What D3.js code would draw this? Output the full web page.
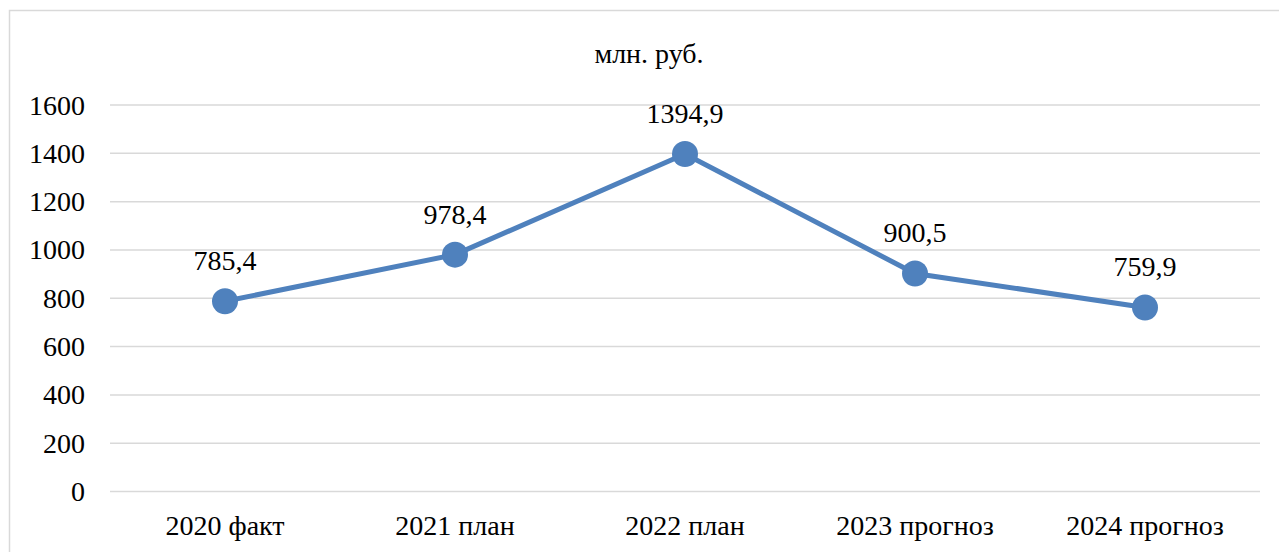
<!DOCTYPE html>
<html><head><meta charset="utf-8">
<script src="https://cdn.jsdelivr.net/npm/d3@7"></script>
</head><body style="margin:0">
<script>
const categories = ["2020 факт","2021 план","2022 план","2023 прогноз","2024 прогноз"];
const values = [785.4, 978.4, 1394.9, 900.5, 759.9];
const valueLabels = ["785,4","978,4","1394,9","900,5","759,9"];
const yTicks = [0,200,400,600,800,1000,1200,1400,1600];
const title = "млн. руб.";

const W=1279,H=552;
const svg=d3.select("body").append("svg").attr("width",W).attr("height",H).style("display","block")
  .attr("font-family","serif");
svg.append("rect").attr("x",9.5).attr("y",10.5).attr("width",1300).attr("height",600)
  .attr("fill","#fff").attr("stroke","#d9d9d9").attr("stroke-width",1.5);
const x=d3.scaleBand().domain(categories).range([110,1260]);
const y=d3.scaleLinear().domain([0,1600]).range([491,104.5]);

function styleText(sel){
  return sel.attr("font-family","serif").style("font-family","Times New Roman").style("font-size","28px").style("fill","#000");
}

styleText(svg.append("text").attr("x",649).attr("y",63).attr("text-anchor","middle").text(title));

const ga=svg.append("g").attr("transform","translate(110,0)")
 .call(d3.axisLeft(y).tickValues(yTicks).tickSize(-1150).tickFormat(d3.format("d")));
ga.attr("font-family","serif").attr("font-size",null);
ga.select(".domain").remove();
ga.selectAll(".tick line").attr("stroke","#d9d9d9").attr("stroke-width",1.5);
styleText(ga.selectAll(".tick text").attr("x",-25).attr("dy","0.34em"));

const gx=svg.append("g").attr("transform","translate(0,491)").call(d3.axisBottom(x).tickSize(0));
gx.attr("font-family","serif").attr("font-size",null);
gx.select(".domain").remove();
styleText(gx.selectAll(".tick text").attr("dy",0).attr("y",44));

const cx=d=>x(d)+x.bandwidth()/2;
const data=categories.map((c,i)=>({c,v:values[i],l:valueLabels[i]}));
svg.append("path").datum(data).attr("fill","none").attr("stroke","#4f81bd").attr("stroke-width",5)
 .attr("d",d3.line().x(d=>cx(d.c)).y(d=>y(d.v)));
svg.selectAll("circle.p").data(data).join("circle").attr("cx",d=>cx(d.c)).attr("cy",d=>y(d.v)).attr("r",13).attr("fill","#4f81bd");
styleText(svg.selectAll("text.lbl").data(data).join("text").attr("class","lbl").attr("x",d=>cx(d.c)).attr("y",d=>y(d.v)-31)
 .attr("text-anchor","middle").text(d=>d.l));
</script>
</body></html>
